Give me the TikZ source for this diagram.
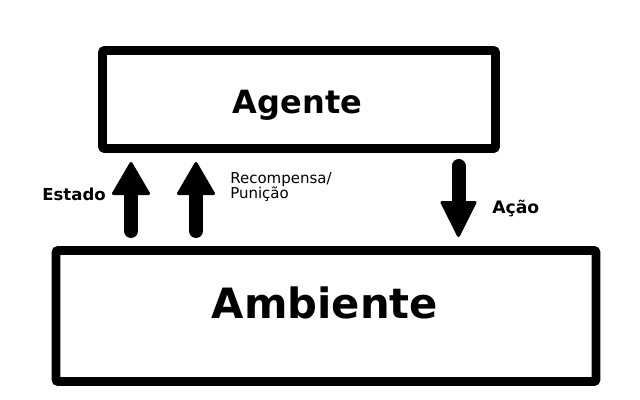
\documentclass[tikz,border=0pt]{standalone}
\usepackage{fontspec}
\setmainfont{DejaVu Sans}
\usetikzlibrary{calc}
\begin{document}
\begin{tikzpicture}[x=0.75pt,y=-0.75pt,
  box/.style={draw=black,line width=6.5pt,rounded corners=1.5pt,inner sep=0pt,
    minimum width=#1},
  shaft/.style={draw=black,line width=10.5pt,line cap=round},
  head/.style={draw=black,fill=black,line width=2.25pt,line join=round},
  lbl/.style={inner sep=0pt,font=\bfseries\fontsize{12.4pt}{14pt}\selectfont},
  big/.style={inner sep=0pt,font=\bfseries}]
\useasboundingbox (0,0) rectangle (640,400);
% boxes
\node[box=294.75pt,minimum height=73.5pt] (agente) at (299,99.5) {};
\node[box=405pt,minimum height=98.25pt] (ambiente) at (326,316) {};
\node[big,anchor=base,font=\bfseries\fontsize{24pt}{28pt}\selectfont] (tagente) at (297.5,113) {Agente};
\node[big,anchor=base,font=\bfseries\fontsize{31.3pt}{36pt}\selectfont] (tambiente) at (325,318) {Ambiente};
% arrow end points
\coordinate (s1) at (131,231);
\coordinate (t1) at (131,163.5);
\coordinate (s2) at (196,231);
\coordinate (t2) at (196,163.5);
\coordinate (s3) at (458.5,166);
\coordinate (t3) at (458.5,235.5);
% Estado arrow
\draw[shaft] (s1) -- ($(t1)+(0,31)$);
\filldraw[head] (t1) -- ($(t1)+(-17.5,30)$) -- ($(t1)+(17.5,30)$) -- cycle;
% Recompensa arrow
\draw[shaft] (s2) -- ($(t2)+(0,31)$);
\filldraw[head] (t2) -- ($(t2)+(-17.5,30)$) -- ($(t2)+(17.5,30)$) -- cycle;
% Acao arrow
\draw[shaft] (s3) -- ($(t3)+(0,-31)$);
\filldraw[head] (t3) -- ($(t3)+(-16.5,-33)$) -- ($(t3)+(16.5,-33)$) -- cycle;
% labels
\node[lbl,anchor=base east] (lestado) at (106,200) {Estado};
\node[inner sep=0pt,anchor=base west,align=left,font=\fontsize{11.25pt}{11.25pt}\selectfont] (lrec) at (230,198.3) {Recompensa/\\Punição};
\node[lbl,anchor=base west,font=\bfseries\fontsize{12.9pt}{14pt}\selectfont] (lacao) at (492,213.3) {Ação};
\end{tikzpicture}
\end{document}
